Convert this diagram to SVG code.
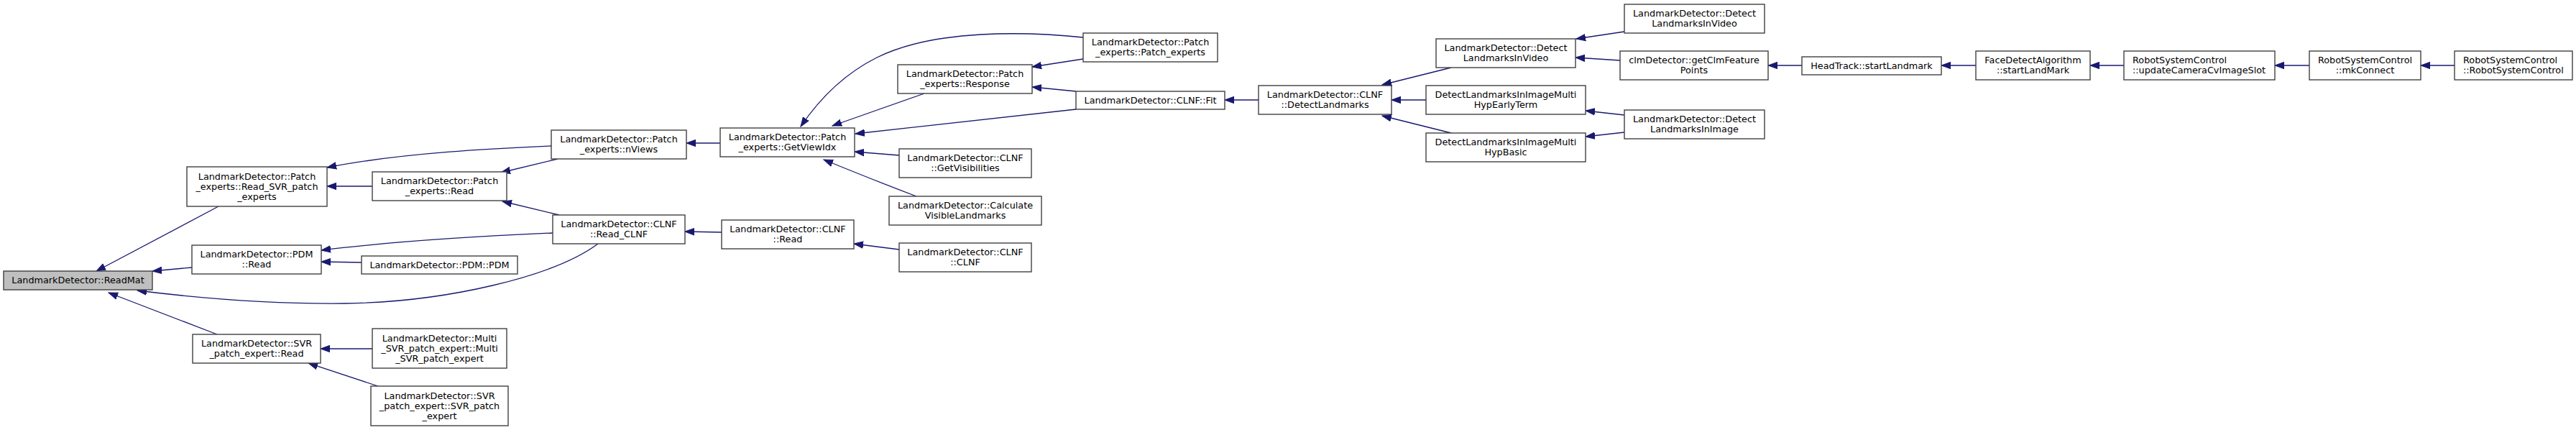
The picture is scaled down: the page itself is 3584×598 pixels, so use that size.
<svg xmlns="http://www.w3.org/2000/svg" width="3584" height="598" viewBox="0 0 3584 598">
<style>
.n rect{fill:#ffffff;stroke:#404040;stroke-width:1.4}
.n.hl rect{fill:#bfbfbf}
.n text{font-family:"DejaVu Sans",sans-serif;font-size:12.8px;fill:#000;text-anchor:middle}
.n text.l{text-anchor:start}
.e path{fill:none;stroke:#191970;stroke-width:1.3;marker-end:url(#ah)}
</style>
<defs>
<marker id="ah" markerUnits="userSpaceOnUse" markerWidth="14" markerHeight="11" viewBox="0 -5.5 14 11" refX="13" refY="0" orient="auto">
<path d="M0,-4.7 L13,0 L0,4.7 z" fill="#191970" stroke="#191970" stroke-width="1"/>
</marker>
</defs>
<rect width="3584" height="598" fill="#ffffff"/>
<g id="edges" class="e">
<path d="M304,287 L134,377"/>
<path d="M267,372 L212,377"/>
<path d="M832,339 C770,385 620,420 480,422 C380,423 280,415 191,404"/>
<path d="M302,465 L151,407"/>
<path d="M518,259 L455,259"/>
<path d="M767,203 C700,206 560,212 455,233"/>
<path d="M518,485 L446,485"/>
<path d="M526,537 L429,505"/>
<path d="M769,324 C700,327 560,334 447,348"/>
<path d="M503,365 L447,364"/>
<path d="M776,221 L697,240"/>
<path d="M778,299 L699,280"/>
<path d="M1002,199 L955,199"/>
<path d="M1004,323 L953,322"/>
<path d="M1507,52 C1430,44 1300,40 1220,80 C1170,105 1135,145 1114,176"/>
<path d="M1286,130 L1158,175"/>
<path d="M1497,152 L1190,186"/>
<path d="M1251,216 L1189,211"/>
<path d="M1275,273 C1230,256 1190,240 1146,222"/>
<path d="M1251,347 L1188,339"/>
<path d="M1507,82 L1436,93"/>
<path d="M1497,127 L1436,121"/>
<path d="M1751,139 L1704,139"/>
<path d="M2019,94 L1923,118"/>
<path d="M1984,139 L1936,139"/>
<path d="M2019,185 L1923,161"/>
<path d="M2260,44 L2193,54"/>
<path d="M2254,84 L2192,80"/>
<path d="M2260,160 L2206,154"/>
<path d="M2260,184 L2206,190"/>
<path d="M2507,91 L2460,91"/>
<path d="M2749,91 L2701,91"/>
<path d="M2955,91 L2908,91"/>
<path d="M3213,91 L3165,91"/>
<path d="M3415,91 L3368,91"/>
</g>
<g id="readmat" class="n hl"><rect x="5" y="377" width="207" height="26"/><text x="108.5" y="394">LandmarkDetector::ReadMat</text></g>
<g id="readsvr" class="n"><rect x="260" y="232" width="195" height="55"/><text x="357.5" y="249.5">LandmarkDetector::Patch</text><text x="357.5" y="263.5">_experts::Read_SVR_patch</text><text x="357.5" y="277.5">_experts</text></g>
<g id="pdmread" class="n"><rect x="267" y="341" width="180" height="40"/><text x="357" y="358">LandmarkDetector::PDM</text><text x="357" y="372">::Read</text></g>
<g id="svrread" class="n"><rect x="268" y="465" width="178" height="40"/><text x="357" y="482">LandmarkDetector::SVR</text><text x="357" y="496">_patch_expert::Read</text></g>
<g id="patchread" class="n"><rect x="518" y="239" width="187" height="40"/><text x="611.5" y="256">LandmarkDetector::Patch</text><text x="611.5" y="270">_experts::Read</text></g>
<g id="pdmpdm" class="n"><rect x="503" y="356" width="217" height="25"/><text x="611.5" y="372.5">LandmarkDetector::PDM::PDM</text></g>
<g id="multisvr" class="n"><rect x="518" y="457" width="187" height="55"/><text x="611.5" y="474.5">LandmarkDetector::Multi</text><text x="611.5" y="488.5">_SVR_patch_expert::Multi</text><text x="611.5" y="502.5">_SVR_patch_expert</text></g>
<g id="svrctor" class="n"><rect x="516" y="537" width="191" height="55"/><text x="611.5" y="554.5">LandmarkDetector::SVR</text><text x="611.5" y="568.5">_patch_expert::SVR_patch</text><text x="611.5" y="582.5">_expert</text></g>
<g id="nviews" class="n"><rect x="767" y="181" width="188" height="40"/><text x="861" y="198">LandmarkDetector::Patch</text><text x="861" y="212">_experts::nViews</text></g>
<g id="readclnf" class="n"><rect x="769" y="299" width="184" height="40"/><text x="861" y="316">LandmarkDetector::CLNF</text><text x="861" y="330">::Read_CLNF</text></g>
<g id="getviewidx" class="n"><rect x="1002" y="178" width="187" height="40"/><text x="1095.5" y="195">LandmarkDetector::Patch</text><text x="1095.5" y="209">_experts::GetViewIdx</text></g>
<g id="clnfread" class="n"><rect x="1004" y="306" width="184" height="40"/><text x="1096" y="323">LandmarkDetector::CLNF</text><text x="1096" y="337">::Read</text></g>
<g id="response" class="n"><rect x="1249" y="90" width="187" height="40"/><text x="1342.5" y="107">LandmarkDetector::Patch</text><text x="1342.5" y="121">_experts::Response</text></g>
<g id="getvis" class="n"><rect x="1251" y="207" width="184" height="40"/><text x="1343" y="224">LandmarkDetector::CLNF</text><text x="1343" y="238">::GetVisibilities</text></g>
<g id="calcvis" class="n"><rect x="1237" y="273" width="212" height="40"/><text x="1343" y="290">LandmarkDetector::Calculate</text><text x="1343" y="304">VisibleLandmarks</text></g>
<g id="clnfclnf" class="n"><rect x="1251" y="338" width="184" height="40"/><text x="1343" y="355">LandmarkDetector::CLNF</text><text x="1343" y="369">::CLNF</text></g>
<g id="patchctor" class="n"><rect x="1507" y="46" width="187" height="40"/><text x="1600.5" y="63">LandmarkDetector::Patch</text><text x="1600.5" y="77">_experts::Patch_experts</text></g>
<g id="fit" class="n"><rect x="1497" y="127" width="207" height="25"/><text x="1600.5" y="143.5">LandmarkDetector::CLNF::Fit</text></g>
<g id="detectlm" class="n"><rect x="1751" y="119" width="185" height="40"/><text x="1843.5" y="136">LandmarkDetector::CLNF</text><text x="1843.5" y="150">::DetectLandmarks</text></g>
<g id="dliv1" class="n"><rect x="1998" y="54" width="194" height="40"/><text x="2095" y="71">LandmarkDetector::Detect</text><text x="2095" y="85">LandmarksInVideo</text></g>
<g id="earlyterm" class="n"><rect x="1984" y="119" width="222" height="40"/><text x="2095" y="136">DetectLandmarksInImageMulti</text><text x="2095" y="150">HypEarlyTerm</text></g>
<g id="hypbasic" class="n"><rect x="1984" y="185" width="222" height="40"/><text x="2095" y="202">DetectLandmarksInImageMulti</text><text x="2095" y="216">HypBasic</text></g>
<g id="dliv2" class="n"><rect x="2260" y="6" width="195" height="40"/><text x="2357.5" y="23">LandmarkDetector::Detect</text><text x="2357.5" y="37">LandmarksInVideo</text></g>
<g id="clmdet" class="n"><rect x="2254" y="71" width="206" height="40"/><text x="2357" y="88">clmDetector::getClmFeature</text><text x="2357" y="102">Points</text></g>
<g id="dlii" class="n"><rect x="2260" y="153" width="195" height="40"/><text x="2357.5" y="170">LandmarkDetector::Detect</text><text x="2357.5" y="184">LandmarksInImage</text></g>
<g id="headtrack" class="n"><rect x="2507" y="79" width="194" height="25"/><text x="2604" y="95.5">HeadTrack::startLandmark</text></g>
<g id="facedetect" class="n"><rect x="2749" y="71" width="159" height="40"/><text x="2828.5" y="88">FaceDetectAlgorithm</text><text x="2828.5" y="102">::startLandMark</text></g>
<g id="updatecam" class="n"><rect x="2955" y="71" width="210" height="40"/><text class="l" x="2967" y="88">RobotSystemControl</text><text class="l" x="2967" y="102">::updateCameraCvImageSlot</text></g>
<g id="mkconnect" class="n"><rect x="3213" y="71" width="155" height="40"/><text x="3290.5" y="88">RobotSystemControl</text><text x="3290.5" y="102">::mkConnect</text></g>
<g id="rsc" class="n"><rect x="3415" y="71" width="164" height="40"/><text class="l" x="3427" y="88">RobotSystemControl</text><text class="l" x="3427" y="102">::RobotSystemControl</text></g>
</svg>
